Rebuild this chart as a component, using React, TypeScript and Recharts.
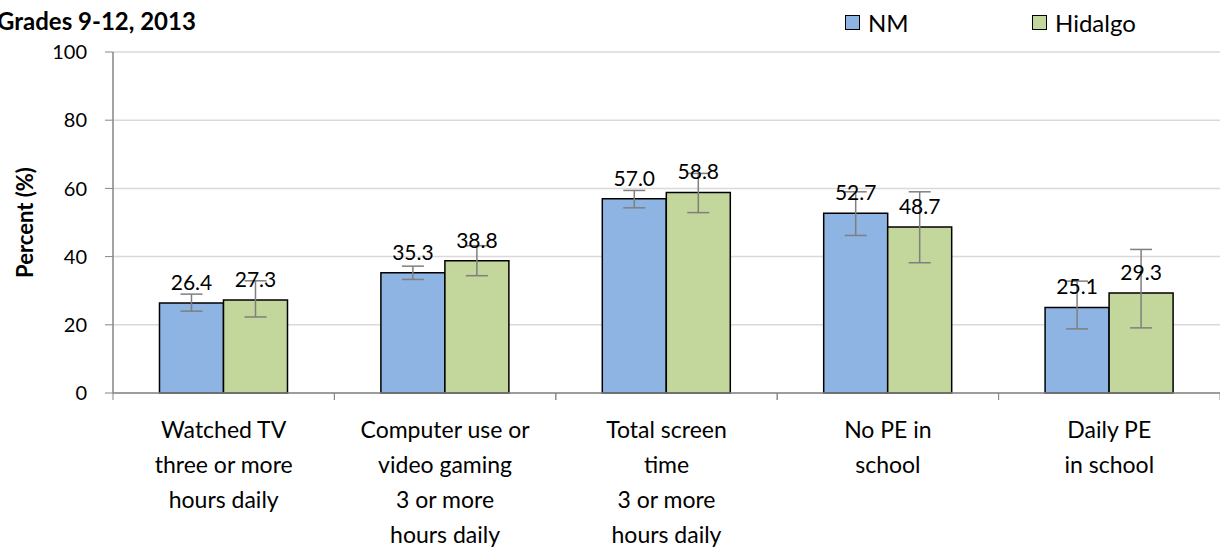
import {
  Bar,
  BarChart,
  CartesianGrid,
  ErrorBar,
  LabelList,
  XAxis,
  YAxis,
} from 'recharts';

const categories = [
  'Watched TV\nthree or more\nhours daily',
  'Computer use or\nvideo gaming\n3 or more\nhours daily',
  'Total screen\ntime\n3 or more\nhours daily',
  'No PE in\nschool',
  'Daily PE\nin school',
];
const nmValues = [26.4, 35.3, 57.0, 52.7, 25.1];
const hidalgoValues = [27.3, 38.8, 58.8, 48.7, 29.3];
// confidence intervals [low, high]
const nmCI = [[24.0, 29.0], [33.3, 37.2], [54.3, 59.4], [46.2, 59.0], [18.8, 32.8]];
const hidalgoCI = [[22.3, 32.9], [34.4, 43.2], [52.9, 64.4], [38.2, 59.0], [19.1, 42.1]];
const yTicks = [0, 20, 40, 60, 80, 100];

const data = categories.map((name, i) => ({
  name,
  nm: nmValues[i],
  hidalgo: hidalgoValues[i],
  nmErr: [nmValues[i] - nmCI[i][0], nmCI[i][1] - nmValues[i]],
  hidalgoErr: [hidalgoValues[i] - hidalgoCI[i][0], hidalgoCI[i][1] - hidalgoValues[i]],
}));

const FONT = 'Lato, "Open Sans", sans-serif';
const NM_COLOR = '#8EB4E3';
const HID_COLOR = '#C3D69B';
const AXIS = '#868686';

const CategoryTick = (props: any) => {
  const { x, y, payload } = props;
  const half = payload.offset ?? 110;
  const lines = String(payload.value).split('\n');
  return (
    <g>
      <line x1={x - half} x2={x - half} y1={y} y2={y + 7} stroke={AXIS} />
      <line x1={x + half} x2={x + half} y1={y} y2={y + 7} stroke={AXIS} />
      <text x={x} y={y + 45} textAnchor="middle" fontSize={23} fill="#000" fontFamily={FONT}>
        {lines.map((l, i) => (
          <tspan key={i} x={x} dy={i === 0 ? 0 : 35}>
            {l}
          </tspan>
        ))}
      </text>
    </g>
  );
};

const legendItems = [
  { label: 'NM', color: NM_COLOR, left: 845 },
  { label: 'Hidalgo', color: HID_COLOR, left: 1032 },
];

export default function App() {
  return (
    <div style={{ position: 'absolute', left: 0, top: 0, width: 1220, height: 548, background: '#fff' }}>
      <div
        style={{
          position: 'absolute',
          left: -3,
          top: 6,
          fontFamily: FONT,
          fontWeight: 'bold',
          fontSize: 24,
          color: '#000',
          whiteSpace: 'nowrap',
        }}
      >
        Grades 9-12, 2013
      </div>
      {legendItems.map((it) => (
        <div
          key={it.label}
          style={{
            position: 'absolute',
            left: it.left,
            top: 8,
            display: 'flex',
            alignItems: 'center',
            fontFamily: FONT,
            fontSize: 24,
            color: '#000',
          }}
        >
          <span
            style={{
              display: 'inline-block',
              width: 13,
              height: 13,
              background: it.color,
              border: '1.5px solid #000',
              marginRight: 8,
            }}
          />
          <span>{it.label}</span>
        </div>
      ))}
      <BarChart
        width={1220}
        height={548}
        data={data}
        margin={{ top: 52, right: 0, left: 0, bottom: 125 }}
        barCategoryGap="21%"
        barGap={0}
      >
        <CartesianGrid vertical={false} stroke="#d9d9d9" strokeWidth={1.5} />
        <XAxis
          dataKey="name"
          interval={0}
          tickLine={false}
          tickSize={0}
          tickMargin={0}
          axisLine={{ stroke: AXIS, strokeWidth: 1.5 }}
          tick={<CategoryTick />}
        />
        <YAxis
          width={113}
          domain={[0, 100]}
          ticks={yTicks}
          tickSize={8}
          tickMargin={18}
          axisLine={{ stroke: AXIS, strokeWidth: 1.5 }}
          tickLine={{ stroke: AXIS }}
          tick={{ fill: '#000', fontSize: 20, fontFamily: FONT }}
          label={{
            value: 'Percent (%)',
            angle: -90,
            position: 'insideLeft',
            dx: 20,
            style: { textAnchor: 'middle', fontWeight: 'bold', fontSize: 22, fill: '#000', fontFamily: FONT },
          }}
        />
        <Bar dataKey="nm" name="NM" fill={NM_COLOR} stroke="#000" strokeWidth={1.5} isAnimationActive={false}>
          <ErrorBar dataKey="nmErr" width={11} stroke="#7f7f7f" strokeWidth={1.5} />
          <LabelList
            dataKey="nm"
            position="top"
            offset={13}
            formatter={(v: any) => Number(v).toFixed(1)}
            style={{ fill: '#000', fontSize: 21, fontFamily: FONT }}
          />
        </Bar>
        <Bar dataKey="hidalgo" name="Hidalgo" fill={HID_COLOR} stroke="#000" strokeWidth={1.5} isAnimationActive={false}>
          <ErrorBar dataKey="hidalgoErr" width={11} stroke="#7f7f7f" strokeWidth={1.5} />
          <LabelList
            dataKey="hidalgo"
            position="top"
            offset={13}
            formatter={(v: any) => Number(v).toFixed(1)}
            style={{ fill: '#000', fontSize: 21, fontFamily: FONT }}
          />
        </Bar>
      </BarChart>
    </div>
  );
}
